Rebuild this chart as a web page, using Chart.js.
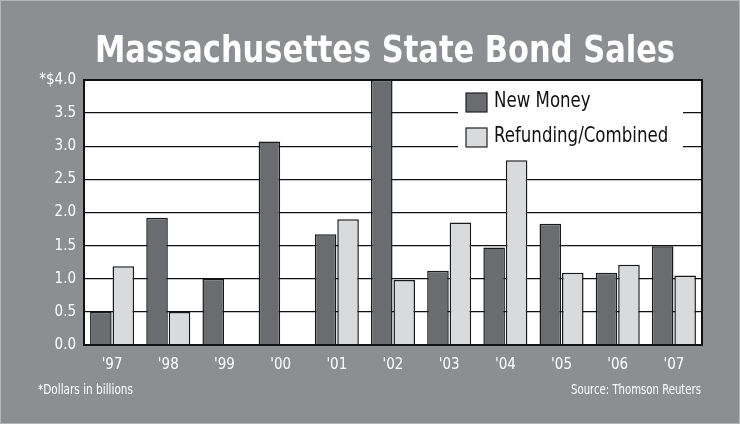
<!DOCTYPE html>
<html>
<head>
<meta charset="utf-8">
<script src="https://cdn.jsdelivr.net/npm/chart.js@4/dist/chart.umd.min.js"></script>
<style>
  html, body { margin: 0; padding: 0; background: #8d8e92; }
  #wrap { width: 740px; height: 424px; position: relative; }
</style>
</head>
<body>
<div id="wrap"><canvas id="myChart" width="740" height="424"></canvas></div>
<script>
// data for chart
let years = ["'97", "'98", "'99", "'00", "'01", "'02", "'03", "'04", "'05", "'06", "'07"];
let newMoney = [0.5, 1.92, 1.0, 3.07, 1.67, 4.0, 1.12, 1.47, 1.83, 1.09, 1.49];
let refunding = [1.19, 0.5, 0, 0, 1.9, 0.98, 1.85, 2.79, 1.09, 1.21, 1.05];
let yTicks = [0, 0.5, 1.0, 1.5, 2.0, 2.5, 3.0, 3.5, 4.0];
let yTickLabels = ["0.0", "0.5", "1.0", "1.5", "2.0", "2.5", "3.0", "3.5", "*$4.0"];

let titleText = "Massachusettes State Bond Sales";
let footLeft = "*Dollars in billions";
let footRight = "Source: Thomson Reuters";

const FONT = '"DejaVu Sans Condensed", "Liberation Sans Narrow", sans-serif';
const BG = '#8d8e92';
const DARK = '#6b6c70';
const LIGHT = '#d9dadc';

// draw text squeezed horizontally, x is the left edge
function narrowText(ctx, text, x, y, sx) {
    ctx.save();
    ctx.translate(x, y);
    ctx.scale(sx, 1);
    ctx.textAlign = 'left';
    ctx.fillText(text, 0, 0);
    ctx.restore();
}

// background, title and footnotes
let decorPlugin = {
    id: 'decor',
    beforeDraw(chart) {
        let ctx = chart.ctx;
        ctx.save();
        ctx.fillStyle = BG;
        ctx.fillRect(0, 0, chart.width, chart.height);
        ctx.strokeStyle = '#b4b5b8';
        ctx.lineWidth = 1;
        ctx.strokeRect(0.5, 0.5, chart.width - 1, chart.height - 1);
        let a = chart.chartArea;
        ctx.fillStyle = '#ffffff';
        ctx.fillRect(a.left, a.top, a.right - a.left, a.bottom - a.top);
        ctx.restore();
    },
    afterDraw(chart) {
        let ctx = chart.ctx;
        let a = chart.chartArea;
        ctx.save();
        ctx.fillStyle = '#ffffff';
        ctx.textBaseline = 'alphabetic';
        ctx.font = 'bold 38px ' + FONT;
        let w = ctx.measureText(titleText).width;
        narrowText(ctx, titleText, 95, 62, 580 / w);
        ctx.font = '14px ' + FONT;
        w = ctx.measureText(footLeft).width;
        narrowText(ctx, footLeft, 38, 394, 95 / w);
        w = ctx.measureText(footRight).width;
        narrowText(ctx, footRight, 571, 394, 130 / w);
        // plot frame
        ctx.strokeStyle = '#111';
        ctx.lineWidth = 2;
        ctx.strokeRect(a.left, a.top, a.right - a.left, a.bottom - a.top);
        ctx.restore();
    }
};

// legend inside the plot, with white box over the grid
let legendPlugin = {
    id: 'inLegend',
    afterDatasetsDraw(chart) {
        let ctx = chart.ctx;
        ctx.save();
        ctx.fillStyle = '#ffffff';
        ctx.fillRect(458, 84, 225, 72);
        ctx.font = '21px ' + FONT;
        ctx.textBaseline = 'middle';
        chart.data.datasets.forEach(function (ds, k) {
            let y = 93 + k * 35;
            ctx.fillStyle = ds.backgroundColor;
            ctx.fillRect(466, y, 21, 19);
            ctx.strokeStyle = '#222';
            ctx.lineWidth = 1.2;
            ctx.strokeRect(466, y, 21, 19);
            ctx.fillStyle = '#111';
            narrowText(ctx, ds.label, 494, y + 9, 0.88);
        });
        ctx.restore();
    }
};

let config = {
    type: 'bar',
    data: {
        labels: years,
        datasets: [{
            label: 'New Money',
            data: newMoney,
            backgroundColor: DARK,
            borderColor: '#1a1a1a',
            borderWidth: 1.5,
            categoryPercentage: 0.8,
            barPercentage: 0.96
        }, {
            label: 'Refunding/Combined',
            data: refunding,
            backgroundColor: LIGHT,
            borderColor: '#1a1a1a',
            borderWidth: 1.5,
            categoryPercentage: 0.8,
            barPercentage: 0.96
        }]
    },
    options: {
        responsive: false,
        animation: false,
        layout: { padding: { top: 80, right: 38, bottom: 50, left: 0 } },
        plugins: {
            legend: { display: false },
            title: { display: false },
            tooltip: { enabled: false }
        },
        scales: {
            x: {
                grid: { display: false, drawTicks: false },
                border: { display: false },
                ticks: {
                    color: '#ffffff',
                    font: { family: FONT, size: 15 },
                    padding: 11,
                    maxRotation: 0
                },
                afterFit(scale) { scale.height = 29; }
            },
            y: {
                min: 0,
                max: 4,
                afterBuildTicks(scale) {
                    scale.ticks = yTicks.map(function (v) { return { value: v }; });
                },
                grid: { color: '#111', lineWidth: 1.3, drawTicks: false },
                border: { display: false },
                ticks: {
                    color: '#ffffff',
                    font: { family: FONT, size: 15 },
                    padding: 8,
                    callback: function (value, index) { return yTickLabels[index]; }
                },
                afterFit(scale) { scale.width = 84; }
            }
        }
    },
    plugins: [decorPlugin, legendPlugin]
};

let myChart = new Chart(document.getElementById('myChart'), config);
</script>
</body>
</html>
